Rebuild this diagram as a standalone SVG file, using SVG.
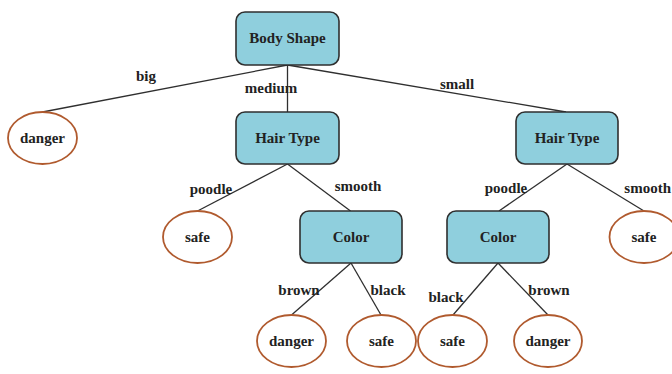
<svg xmlns="http://www.w3.org/2000/svg" width="672" height="374" viewBox="0 0 672 374">
  <style>
    .box { fill: #8fcfdd; stroke: #2f2f2f; stroke-width: 1.6; }
    .leaf { fill: #ffffff; stroke: #b05a2e; stroke-width: 1.8; }
    .edge { stroke: #2f2f2f; stroke-width: 1.3; fill: none; }
    text { font-family: "Liberation Serif", "Times New Roman", serif; font-weight: bold; font-size: 15px; fill: #222222; }
    .node-text { text-anchor: middle; }
    .edge-label { text-anchor: middle; }
  </style>
  <rect width="672" height="374" fill="#ffffff"/>

  <!-- connectors -->
  <g id="edges">
    <line class="edge" x1="287.5" y1="65" x2="42.5" y2="112"/>
    <line class="edge" x1="287.5" y1="65" x2="287.5" y2="112"/>
    <line class="edge" x1="287.5" y1="65" x2="566" y2="112"/>
    <line class="edge" x1="287.5" y1="164" x2="197.5" y2="211"/>
    <line class="edge" x1="287.5" y1="164" x2="350.5" y2="211"/>
    <line class="edge" x1="567" y1="164" x2="499" y2="211"/>
    <line class="edge" x1="567" y1="164" x2="644" y2="211"/>
    <line class="edge" x1="351" y1="263" x2="291.5" y2="315"/>
    <line class="edge" x1="351" y1="263" x2="381" y2="315"/>
    <line class="edge" x1="498" y1="263" x2="453" y2="315"/>
    <line class="edge" x1="498" y1="263" x2="548" y2="315"/>
    <text class="edge-label" x="146" y="81">big</text>
    <text class="edge-label" x="271" y="93">medium</text>
    <text class="edge-label" x="457" y="89">small</text>
    <text class="edge-label" x="211" y="194">poodle</text>
    <text class="edge-label" x="358" y="191">smooth</text>
    <text class="edge-label" x="506" y="193">poodle</text>
    <text x="671" y="193" text-anchor="end">smooth</text>
    <text class="edge-label" x="299" y="295">brown</text>
    <text class="edge-label" x="388" y="295">black</text>
    <text class="edge-label" x="446" y="302">black</text>
    <text class="edge-label" x="549" y="295">brown</text>
  </g>

  <g id="body-shape">
    <rect class="box" x="236" y="12" width="103" height="53" rx="9"/>
    <text class="node-text" x="287.5" y="43">Body Shape</text>
  </g>
  <g id="danger-big">
    <ellipse class="leaf" cx="42.5" cy="138" rx="34.5" ry="26"/>
    <text class="node-text" x="42.5" y="143">danger</text>
  </g>
  <g id="hair-type-medium">
    <rect class="box" x="236" y="112" width="103" height="52" rx="9"/>
    <text class="node-text" x="287.5" y="143">Hair Type</text>
  </g>
  <g id="hair-type-small">
    <rect class="box" x="516" y="112" width="102" height="52" rx="9"/>
    <text class="node-text" x="567" y="143">Hair Type</text>
  </g>
  <g id="safe-medium-poodle">
    <ellipse class="leaf" cx="197.5" cy="237" rx="34.5" ry="26"/>
    <text class="node-text" x="197.5" y="242">safe</text>
  </g>
  <g id="color-medium">
    <rect class="box" x="300" y="211" width="102" height="52" rx="9"/>
    <text class="node-text" x="351" y="242">Color</text>
  </g>
  <g id="color-small">
    <rect class="box" x="447" y="211" width="102" height="52" rx="9"/>
    <text class="node-text" x="498" y="242">Color</text>
  </g>
  <g id="safe-small-smooth">
    <ellipse class="leaf" cx="644" cy="237" rx="34.5" ry="26"/>
    <text class="node-text" x="644" y="242">safe</text>
  </g>
  <g id="danger-medium-brown">
    <ellipse class="leaf" cx="291.5" cy="341" rx="34.5" ry="26"/>
    <text class="node-text" x="291.5" y="346">danger</text>
  </g>
  <g id="safe-medium-black">
    <ellipse class="leaf" cx="381.5" cy="341" rx="34.5" ry="26"/>
    <text class="node-text" x="381.5" y="346">safe</text>
  </g>
  <g id="safe-small-black">
    <ellipse class="leaf" cx="452.5" cy="341" rx="34.5" ry="26"/>
    <text class="node-text" x="452.5" y="346">safe</text>
  </g>
  <g id="danger-small-brown">
    <ellipse class="leaf" cx="548" cy="341" rx="34" ry="26"/>
    <text class="node-text" x="548" y="346">danger</text>
  </g>
</svg>
